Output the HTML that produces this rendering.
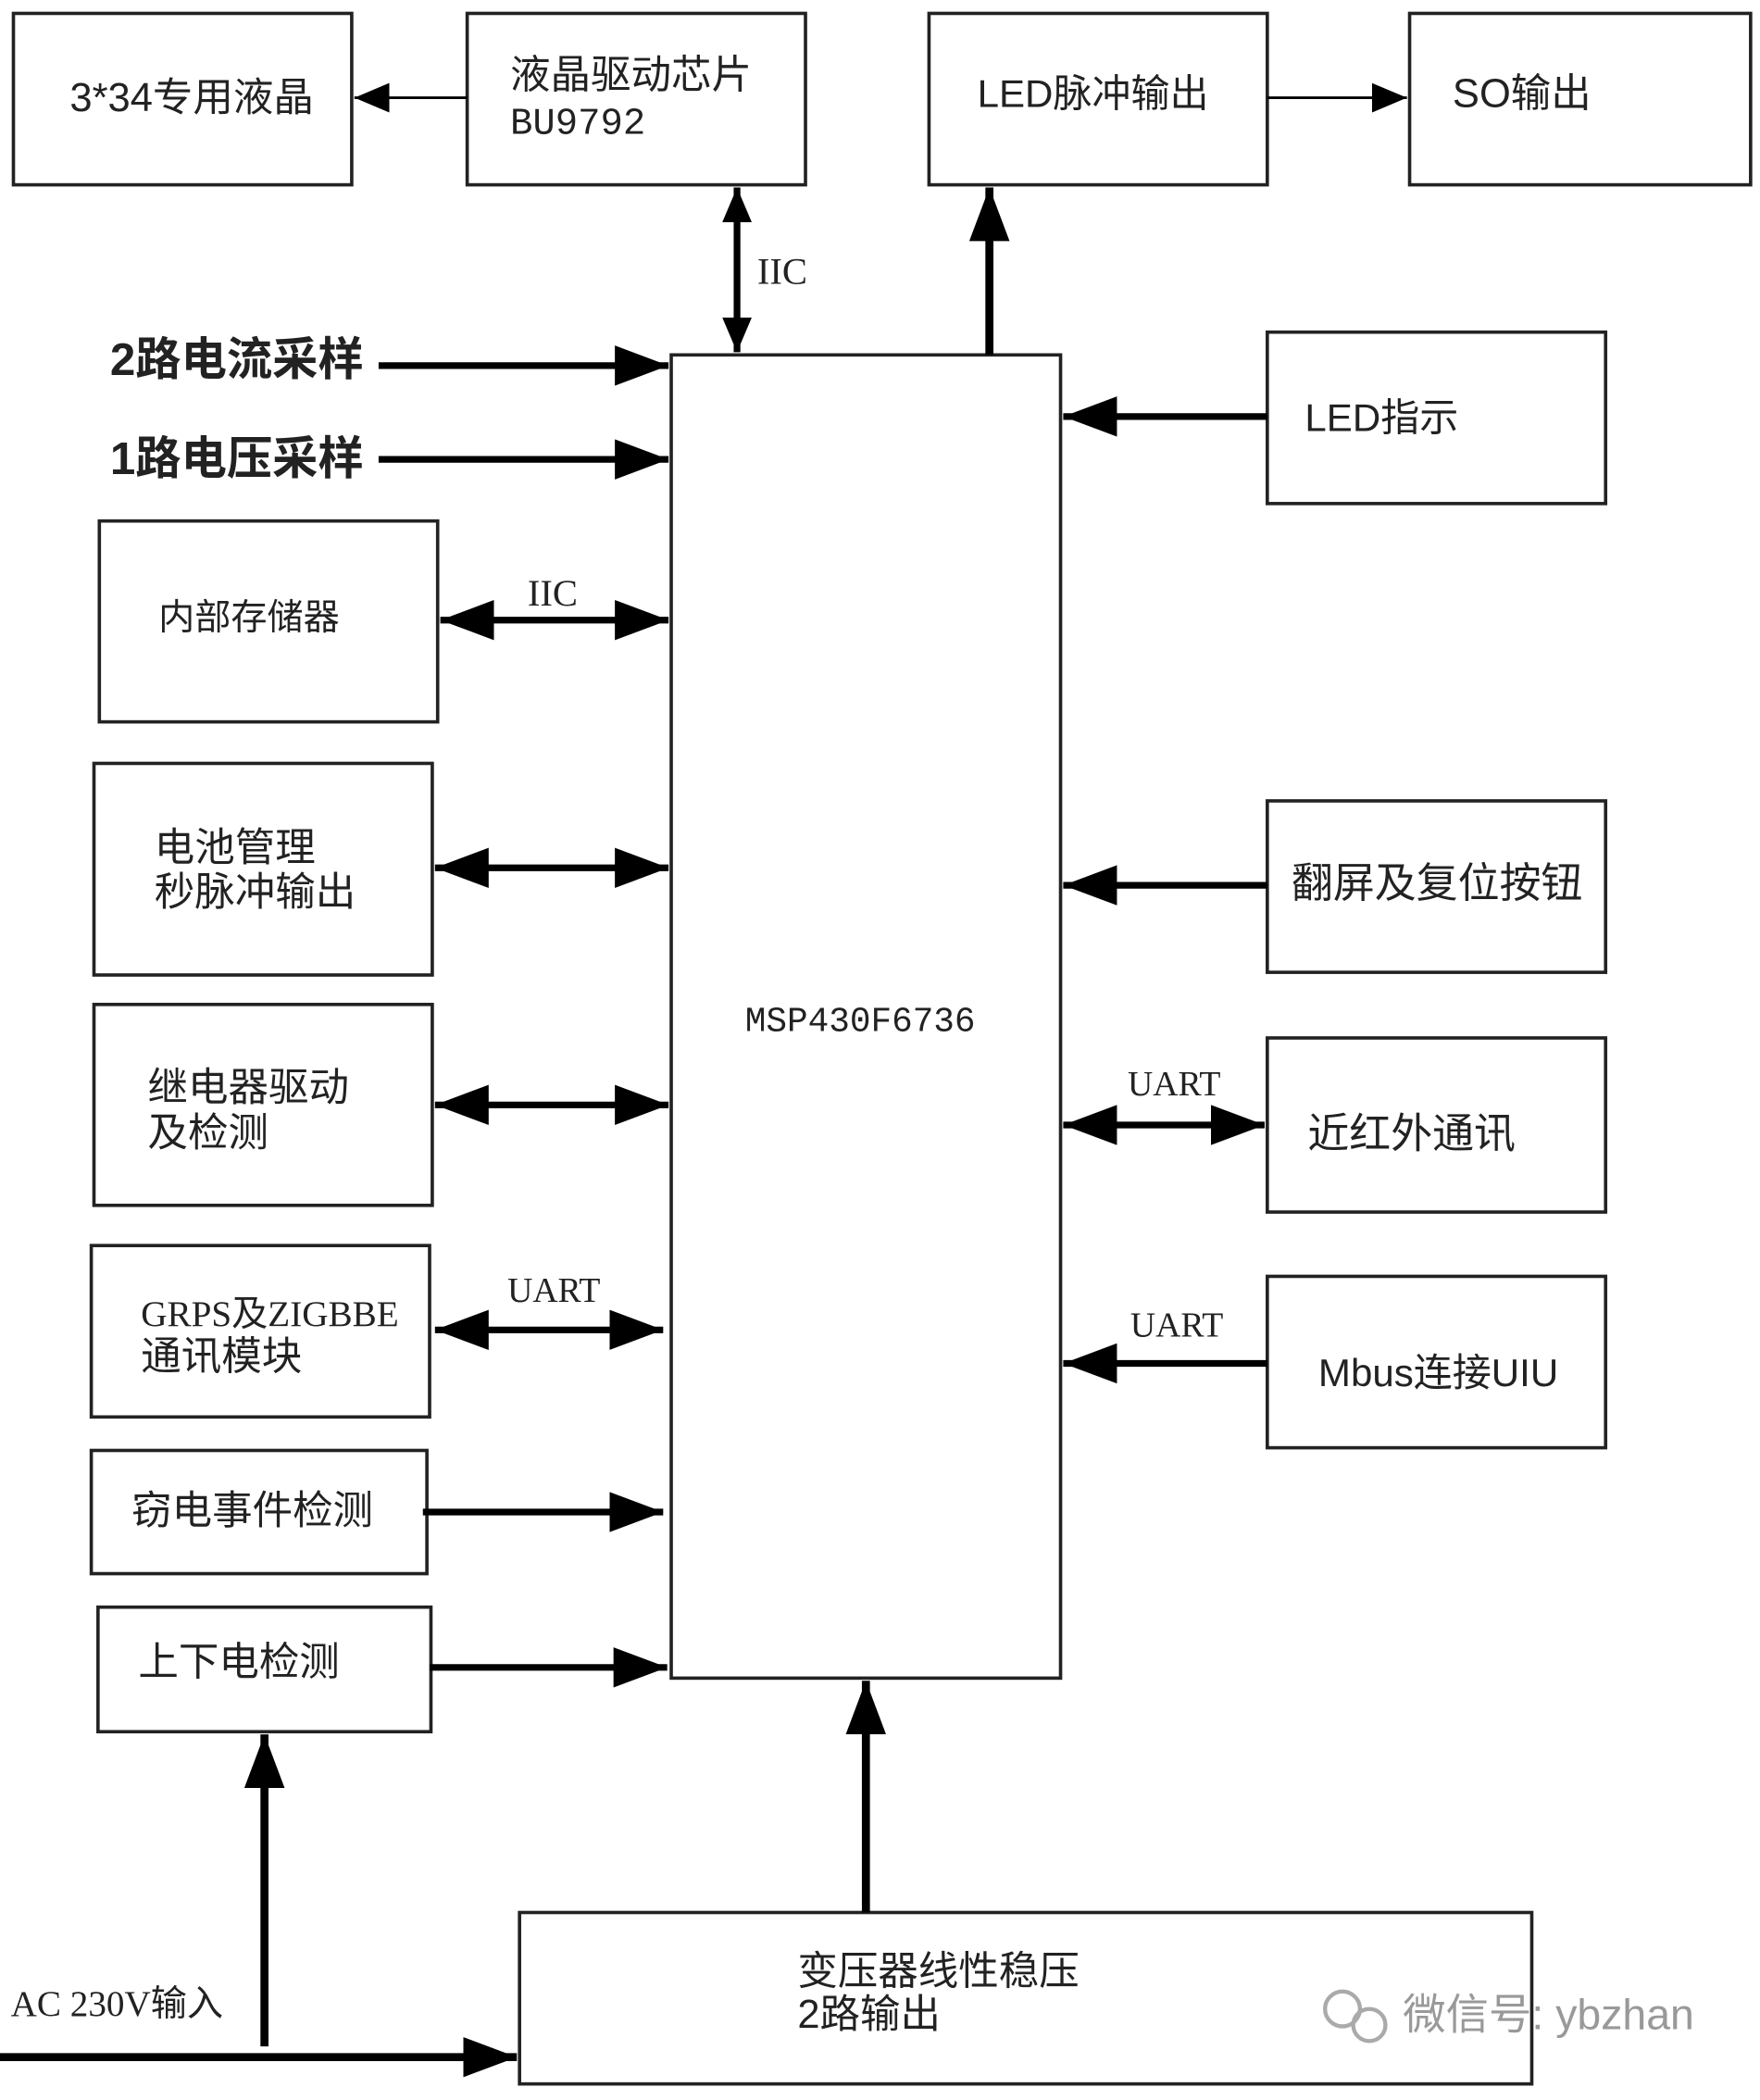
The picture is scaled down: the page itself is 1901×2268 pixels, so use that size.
<!DOCTYPE html>
<html><head><meta charset="utf-8"><style>html,body{margin:0;padding:0;background:#fff}svg{display:block}</style></head>
<body>
<svg width="1901" height="2268" viewBox="0 0 1311 1568" preserveAspectRatio="none" xmlns="http://www.w3.org/2000/svg" font-family="'Liberation Sans','Noto Sans CJK SC',sans-serif">
<defs>
<marker id="b" markerWidth="40" markerHeight="30" refX="40" refY="15" orient="auto-start-reverse" markerUnits="userSpaceOnUse" viewBox="0 0 40 30"><path d="M0,0 L40,15 L0,30 z" fill="#000"/></marker>
<marker id="s" markerWidth="26" markerHeight="22" refX="26" refY="11" orient="auto-start-reverse" markerUnits="userSpaceOnUse" viewBox="0 0 26 22"><path d="M0,0 L26,11 L0,22 z" fill="#000"/></marker>
</defs>
<g fill="none" stroke="#222" stroke-width="2.5">
<rect x="10" y="10" width="252" height="128"/>
<rect x="348" y="10" width="252" height="128"/>
<rect x="692" y="10" width="252" height="128"/>
<rect x="1050" y="10" width="254" height="128"/>
<rect x="500" y="265" width="290" height="988"/>
<rect x="944" y="248" width="252" height="128"/>
<rect x="74" y="389" width="252" height="150"/>
<rect x="70" y="570" width="252" height="158"/>
<rect x="70" y="750" width="252" height="150"/>
<rect x="68" y="930" width="252" height="128"/>
<rect x="68" y="1083" width="250" height="92"/>
<rect x="73" y="1200" width="248" height="93"/>
<rect x="944" y="598" width="252" height="128"/>
<rect x="944" y="775" width="252" height="130"/>
<rect x="944" y="953" width="252" height="128"/>
<rect x="387" y="1428" width="754" height="128"/>
</g>
<g stroke="#000" fill="none">
<line x1="348" y1="73" x2="264" y2="73" stroke-width="2" marker-end="url(#s)"/>
<line x1="944" y1="73" x2="1048" y2="73" stroke-width="2" marker-end="url(#s)"/>
<line x1="549" y1="140" x2="549" y2="263" stroke-width="5" marker-start="url(#s)" marker-end="url(#s)"/>
<line x1="737" y1="265" x2="737" y2="140" stroke-width="6" marker-end="url(#b)"/>
<line x1="282" y1="273" x2="498" y2="273" stroke-width="5" marker-end="url(#b)"/>
<line x1="282" y1="343" x2="498" y2="343" stroke-width="5" marker-end="url(#b)"/>
<line x1="328" y1="463" x2="498" y2="463" stroke-width="5" marker-start="url(#b)" marker-end="url(#b)"/>
<line x1="324" y1="648" x2="498" y2="648" stroke-width="5" marker-start="url(#b)" marker-end="url(#b)"/>
<line x1="324" y1="825" x2="498" y2="825" stroke-width="5" marker-start="url(#b)" marker-end="url(#b)"/>
<line x1="324" y1="993" x2="494" y2="993" stroke-width="5" marker-start="url(#b)" marker-end="url(#b)"/>
<line x1="315" y1="1129" x2="494" y2="1129" stroke-width="5" marker-end="url(#b)"/>
<line x1="320" y1="1245" x2="497" y2="1245" stroke-width="5" marker-end="url(#b)"/>
<line x1="944" y1="311" x2="792" y2="311" stroke-width="5" marker-end="url(#b)"/>
<line x1="944" y1="661" x2="792" y2="661" stroke-width="5" marker-end="url(#b)"/>
<line x1="792" y1="840" x2="942" y2="840" stroke-width="5" marker-start="url(#b)" marker-end="url(#b)"/>
<line x1="944" y1="1018" x2="792" y2="1018" stroke-width="5" marker-end="url(#b)"/>
<line x1="645" y1="1428" x2="645" y2="1255" stroke-width="6" marker-end="url(#b)"/>
<line x1="197" y1="1528" x2="197" y2="1295" stroke-width="6" marker-end="url(#b)"/>
<line x1="0" y1="1536" x2="385" y2="1536" stroke-width="6" marker-end="url(#b)"/>
</g>
<g fill="#222" font-size="30">
<text x="52" y="83">3*34专用液晶</text>
<text x="380" y="66">液晶驱动芯片</text>
<text x="380" y="100" font-family="'Liberation Mono',monospace" font-size="28">BU9792</text>
<text x="728" y="80" font-size="29">LED脉冲输出</text>
<text x="1082" y="80">SO输出</text>
<text x="564" y="212" font-family="'Liberation Serif',serif" font-size="28">IIC</text>
<text x="82" y="280" font-weight="bold" font-size="34">2路电流采样</text>
<text x="82" y="354" font-weight="bold" font-size="34">1路电压采样</text>
<text x="972" y="322" font-size="29">LED指示</text>
<text x="118" y="470" font-size="27">内部存储器</text>
<text x="393" y="452" font-family="'Liberation Serif',serif" font-size="28">IIC</text>
<text x="115" y="643">电池管理</text>
<text x="115" y="676">秒脉冲输出</text>
<text x="110" y="822">继电器驱动</text>
<text x="110" y="856">及检测</text>
<text x="105" y="990" font-family="'Liberation Serif','Noto Sans CJK SC',serif" font-size="27">GRPS及ZIGBBE</text>
<text x="105" y="1023">通讯模块</text>
<text x="378" y="972" font-family="'Liberation Serif',serif" font-size="26">UART</text>
<text x="98" y="1138">窃电事件检测</text>
<text x="103" y="1251">上下电检测</text>
<text x="555" y="770" font-family="'Liberation Mono',monospace" font-size="26">MSP430F6736</text>
<text x="962" y="670" font-size="31">翻屏及复位按钮</text>
<text x="840" y="818" font-family="'Liberation Serif',serif" font-size="26">UART</text>
<text x="974" y="857" font-size="31">近红外通讯</text>
<text x="842" y="998" font-family="'Liberation Serif',serif" font-size="26">UART</text>
<text x="982" y="1035" font-size="29">Mbus连接UIU</text>
<text x="594" y="1482">变压器线性稳压</text>
<text x="594" y="1514">2路输出</text>
<text x="8" y="1505" font-family="'Liberation Serif','Noto Sans CJK SC',serif" font-size="27">AC 230V输入</text>
<circle cx="1000" cy="1500" r="13" fill="none" stroke="#aaa" stroke-width="3"/>
<circle cx="1020" cy="1512" r="12" fill="none" stroke="#aaa" stroke-width="3"/>
<text x="1045" y="1515" fill="#999" font-size="32">微信号: ybzhan</text>
</g>
</svg>
</body></html>
